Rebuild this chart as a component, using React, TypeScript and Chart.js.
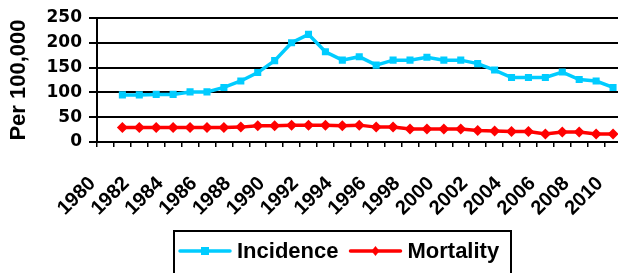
import React, { useEffect, useRef } from "react";
import { Chart, registerables } from "chart.js";

Chart.register(...registerables);

const years: string[] = [
  "1980", "1981", "1982", "1983", "1984", "1985", "1986", "1987", "1988", "1989",
  "1990", "1991", "1992", "1993", "1994", "1995", "1996", "1997", "1998", "1999",
  "2000", "2001", "2002", "2003", "2004", "2005", "2006", "2007", "2008", "2009", "2010",
];

const shownYearLabels: string[] = [
  "1980", "1982", "1984", "1986", "1988", "1990", "1992", "1994",
  "1996", "1998", "2000", "2002", "2004", "2006", "2008", "2010",
];

const incidence: (number | null)[] = [
  null, 95, 95, 96, 96, 101, 101, 110, 123, 140, 164, 200, 217, 182, 165, 172,
  155, 165, 165, 171, 165, 165, 158, 145, 130, 130, 130, 141, 126, 123, 110,
];

const mortality: (number | null)[] = [
  null, 29, 29, 29, 29, 29, 29, 29, 30, 33, 33, 34, 34, 34, 33, 34,
  30, 30, 26, 26, 26, 26, 23, 22, 21, 21, 16, 20, 20, 16, 16,
];

const yMin = 0;
const yMax = 250;
const yStep = 50;

const FONT = "'Liberation Sans', Arial, sans-serif";
const CYAN = "#00CCFF";
const RED = "#FF0000";

const boxLegend = {
  id: "boxLegend",
  afterDraw(chart: any) {
    const ctx = chart.ctx as CanvasRenderingContext2D;
    ctx.save();
    ctx.strokeStyle = "#000";
    ctx.lineWidth = 2;
    ctx.strokeRect(174, 231, 337, 60);
    const cy = 251;
    let x = 180;
    ctx.font = `bold 22px ${FONT}`;
    ctx.textBaseline = "middle";
    ctx.textAlign = "left";
    chart.data.datasets.forEach((ds: any) => {
      ctx.strokeStyle = ds.borderColor;
      ctx.lineWidth = 3.5;
      ctx.lineCap = "round";
      ctx.beginPath();
      ctx.moveTo(x, cy);
      ctx.lineTo(x + 50, cy);
      ctx.stroke();
      ctx.fillStyle = ds.borderColor;
      const mx = x + 25;
      ctx.beginPath();
      if (ds.pointStyle === "rect") {
        ctx.rect(mx - 4, cy - 4, 8, 8);
      } else {
        ctx.moveTo(mx, cy - 5);
        ctx.lineTo(mx + 4, cy);
        ctx.lineTo(mx, cy + 5);
        ctx.lineTo(mx - 4, cy);
        ctx.closePath();
      }
      ctx.fill();
      ctx.fillStyle = "#000";
      ctx.fillText(ds.label, x + 57, cy + 1);
      x += 57 + ctx.measureText(ds.label).width + 12;
    });
    ctx.restore();
  },
};

export default function App() {
  const ref = useRef<HTMLCanvasElement | null>(null);
  useEffect(() => {
    if (!ref.current) return;
    const chart = new Chart(ref.current, {
      type: "line",
      data: {
        labels: years,
        datasets: [
          {
            label: "Incidence",
            data: incidence,
            borderColor: CYAN,
            backgroundColor: CYAN,
            borderWidth: 3.5,
            pointStyle: "rect",
            pointRadius: 5,
            pointBorderWidth: 0,
            tension: 0,
          },
          {
            label: "Mortality",
            data: mortality,
            borderColor: RED,
            backgroundColor: RED,
            borderWidth: 3.5,
            pointStyle: "rectRot",
            pointRadius: 5.5,
            pointBorderWidth: 0,
            tension: 0,
          },
        ],
      },
      options: {
        animation: false,
        responsive: false,
        maintainAspectRatio: false,
        layout: { padding: { top: 18, left: 0, right: 0, bottom: 45 } },
        plugins: {
          legend: { display: false },
          tooltip: { enabled: false },
        },
        scales: {
          x: {
            type: "category",
            offset: true,
            afterFit: (s: any) => {
              s.height = 86;
              s.paddingLeft = 0;
              s.paddingRight = 0;
            },
            grid: {
              display: true,
              drawOnChartArea: false,
              drawTicks: true,
              tickLength: 5,
              color: "#000",
              lineWidth: 1.5,
              offset: true,
            },
            border: { display: true, color: "#000", width: 2 },
            ticks: {
              autoSkip: false,
              maxRotation: 45,
              minRotation: 45,
              padding: 25,
              labelOffset: -13,
              color: "#000",
              font: { family: FONT, size: 20, weight: "bold" },
              callback: function (this: any, value: any) {
                const lab = years[value as number];
                return shownYearLabels.includes(lab) ? lab : "";
              },
            },
          },
          y: {
            min: yMin,
            max: yMax,
            afterFit: (s: any) => {
              s.width = 97;
            },
            ticks: {
              stepSize: yStep,
              autoSkip: false,
              padding: 7,
              color: "#000",
              font: { family: "'DejaVu Sans', sans-serif", size: 17, weight: "bold" },
            },
            grid: {
              color: "#000",
              lineWidth: 2,
              tickLength: 8,
              drawTicks: true,
            },
            border: { display: true, color: "#000", width: 2 },
            title: {
              display: true,
              text: "Per 100,000",
              color: "#000",
              padding: { top: 6, bottom: 0 },
              font: { family: FONT, size: 22, weight: "bold" },
            },
          },
        },
      },
      plugins: [boxLegend],
    });
    return () => chart.destroy();
  }, []);
  return (
    <div style={{ position: "fixed", left: 0, top: 0, width: 618, height: 273, overflow: "hidden", background: "#fff" }}>
      <canvas ref={ref} width={627} height={273} style={{ display: "block", width: 627, height: 273 }} />
    </div>
  );
}
